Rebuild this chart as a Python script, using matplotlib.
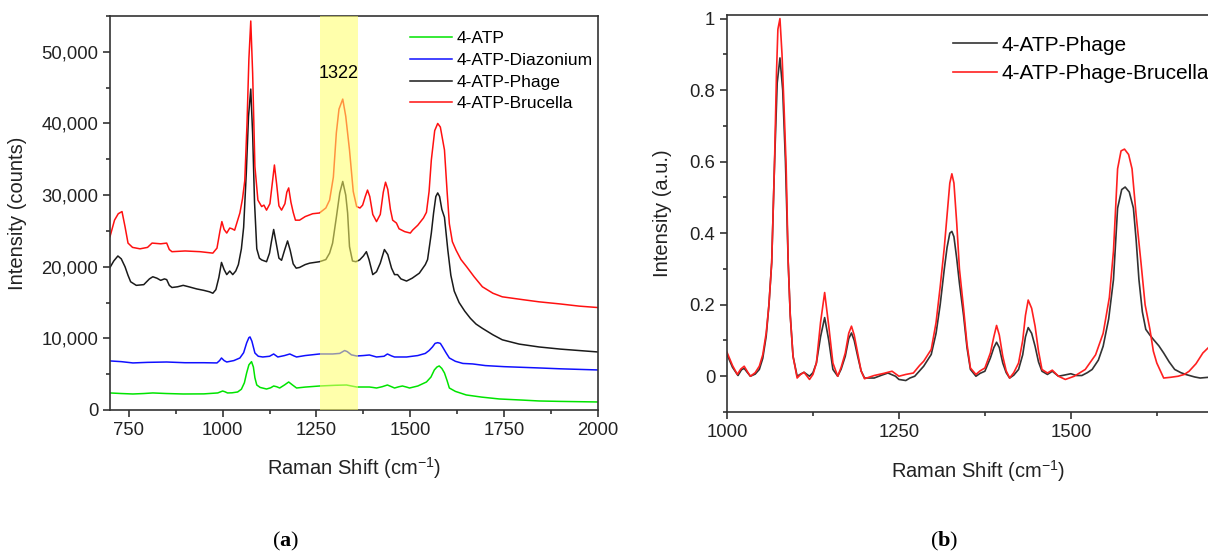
import numpy as np
import matplotlib.pyplot as plt
from matplotlib.ticker import MultipleLocator, FuncFormatter

plt.rcParams['font.family'] = ['Liberation Sans', 'DejaVu Sans']
plt.rcParams['mathtext.fontset'] = 'custom'
plt.rcParams['mathtext.rm'] = 'Liberation Sans'
plt.rcParams['mathtext.bf'] = 'Liberation Serif:bold'

# ---- panel (a) spectra ----
red_x = [700, 712, 722, 732, 740, 748, 760, 780, 800, 812, 835, 851, 858, 865, 900, 940, 974,
         985, 993, 998, 1004, 1011, 1019, 1025, 1032, 1046, 1053, 1059, 1065, 1070, 1075, 1080,
         1086, 1094, 1104, 1110, 1117, 1126, 1132, 1138, 1144, 1150, 1157, 1166, 1171, 1176,
         1182, 1188, 1194, 1205, 1220, 1240, 1258, 1275, 1285, 1295, 1303, 1310, 1320, 1328,
         1338, 1348, 1357, 1366, 1373, 1380, 1386, 1392, 1400, 1410, 1420, 1428, 1434, 1440,
         1447, 1453, 1463, 1470, 1485, 1500, 1506, 1520, 1535, 1543, 1550, 1556, 1565, 1573,
         1580, 1591, 1598, 1604, 1612, 1622, 1635, 1650, 1670, 1692, 1720, 1745, 1800, 1843,
         1900, 1950, 2000]
red_y = [24200, 26500, 27400, 27700, 25600, 23300, 22700, 22500, 22700, 23300, 23200, 23300,
         22400, 22100, 22200, 22100, 21900, 22600, 25000, 26300, 25200, 24700, 25400, 25300,
         25100, 27500, 29500, 32000, 40000, 49000, 54300, 47000, 34000, 29300, 28400, 28600,
         27900, 28800, 31500, 34200, 31500, 28500, 27900, 28800, 30400, 31000, 29000, 27600,
         26500, 26500, 27000, 27400, 27500, 28200, 29300, 32500, 38700, 42000, 43400, 41000,
         36300, 30500, 28400, 28200, 28600, 29800, 30700, 29800, 27300, 26300, 27300, 30400,
         31800, 30800, 28000, 26500, 26100, 25300, 24900, 24700, 25100, 25800, 26800, 27600,
         30500, 34900, 39000, 40000, 39500, 36300, 30500, 26000, 23500, 22300, 21000, 20000,
         18600, 17200, 16300, 15800, 15400, 15100, 14800, 14500, 14300]

black_x = [700, 710, 721, 730, 740, 748, 755, 770, 790, 805, 814, 825, 835, 845, 851, 858, 865,
           880, 895, 910, 931, 950, 965, 974, 982, 990, 997, 1004, 1011, 1019, 1027, 1035,
           1042, 1050, 1056, 1063, 1069, 1075, 1080, 1085, 1091, 1098, 1104, 1117, 1125, 1130,
           1136, 1142, 1150, 1157, 1165, 1173, 1180, 1188, 1196, 1205, 1220, 1232, 1258, 1275,
           1285, 1293, 1303, 1312, 1320, 1328, 1333, 1338, 1346, 1355, 1365, 1375, 1383, 1390,
           1400, 1410, 1420, 1431, 1440, 1450, 1458, 1466, 1475, 1490, 1505, 1524, 1540, 1546,
           1556, 1562, 1568, 1573, 1578, 1584, 1591, 1600, 1608, 1617, 1630, 1645, 1660, 1675,
           1692, 1720, 1745, 1790, 1843, 1900, 1950, 2000]
black_y = [19900, 20800, 21500, 21100, 20000, 18800, 17900, 17400, 17500, 18300, 18600, 18400,
           18100, 18300, 18200, 17400, 17100, 17200, 17400, 17200, 16900, 16700, 16500, 16300,
           16800, 18500, 20600, 19600, 18900, 19400, 18900, 19400, 20300, 22500, 25500, 33000,
           41000, 44800, 38500, 29000, 22500, 21200, 20950, 20700, 21900, 23500, 25200, 23500,
           21200, 20900, 22300, 23600, 22300, 20400, 19800, 19900, 20300, 20500, 20700, 21000,
           21900, 23300, 26900, 30300, 31900, 30000, 27500, 22800, 20800, 20700, 20950, 21500,
           22100, 21000, 18900, 19300, 20500, 22400, 21700, 19800, 18900, 18900, 18300, 18000,
           18400, 19100, 20300, 21000, 24700, 27500, 29800, 30300, 29800, 28000, 26900, 22300,
           18800, 16600, 15000, 13800, 12800, 12000, 11400, 10500, 9800, 9200, 8800, 8500, 8300,
           8100]

blue_x = [700, 730, 761, 800, 851, 900, 950, 985, 992, 997, 1004, 1011, 1030, 1046, 1056, 1064,
          1070, 1073, 1078, 1086, 1095, 1107, 1125, 1136, 1147, 1165, 1179, 1190, 1197, 1220,
          1258, 1293, 1312, 1325, 1332, 1343, 1357, 1375, 1391, 1410, 1430, 1439, 1450, 1458,
          1490, 1520, 1540, 1550, 1559, 1566, 1573, 1580, 1586, 1595, 1604, 1620, 1640, 1666,
          1700, 1750, 1843, 1900, 2000]
blue_y = [6850, 6750, 6570, 6650, 6700, 6600, 6600, 6570, 6900, 7260, 6900, 6700, 6900, 7260,
          8000, 9360, 10100, 10200, 9600, 7960, 7500, 7400, 7500, 7820, 7400, 7600, 7820, 7550,
          7400, 7600, 7820, 7820, 7900, 8300, 8150, 7700, 7540, 7600, 7680, 7400, 7500, 7820,
          7550, 7400, 7400, 7600, 7900, 8300, 8800, 9300, 9400, 9300, 8800, 8000, 7260, 6800,
          6500, 6430, 6200, 6050, 5870, 5750, 5590]

green_x = [700, 730, 761, 790, 814, 850, 895, 950, 987, 1000, 1006, 1013, 1025, 1040, 1050,
           1058, 1064, 1070, 1077, 1082, 1086, 1091, 1100, 1117, 1128, 1136, 1144, 1152, 1165,
           1176, 1186, 1197, 1220, 1258, 1300, 1330, 1357, 1391, 1400, 1410, 1425, 1439, 1450,
           1458, 1470, 1479, 1490, 1498, 1520, 1543, 1555, 1564, 1571, 1577, 1584, 1591, 1598,
           1604, 1620, 1649, 1690, 1737, 1800, 1843, 1900, 2000]
green_y = [2380, 2300, 2235, 2300, 2380, 2300, 2235, 2250, 2380, 2650, 2550, 2380, 2400, 2515,
           2900, 3800, 5170, 6300, 6750, 6000, 4500, 3490, 3150, 2930, 3100, 3350, 3250, 3070,
           3500, 3910, 3500, 3070, 3200, 3350, 3450, 3490, 3210, 3210, 3150, 3070, 3250, 3490,
           3250, 3070, 3250, 3350, 3200, 3070, 3350, 3910, 4600, 5590, 6000, 6150, 5800, 5170,
           4100, 3070, 2600, 2100, 1800, 1540, 1380, 1260, 1200, 1120]

# ---- panel (b) normalised spectra ----
phage_x = [1000, 1008, 1016, 1021, 1025, 1029, 1034, 1041, 1047, 1052, 1057, 1061, 1065, 1069,
           1073, 1077, 1081, 1085, 1089, 1092, 1096, 1102, 1107, 1112, 1120, 1125, 1130, 1136,
           1142, 1148, 1154, 1161, 1166, 1172, 1177, 1181, 1185, 1190, 1195, 1200, 1214, 1225,
           1234, 1245, 1250, 1260, 1266, 1273, 1280, 1286, 1297, 1304, 1310, 1316, 1320, 1324,
           1327, 1330, 1334, 1338, 1344, 1349, 1354, 1362, 1368, 1375, 1383, 1388, 1392, 1396,
           1401, 1406, 1411, 1417, 1424, 1430, 1434, 1438, 1443, 1448, 1453, 1458, 1466, 1473,
           1482, 1490, 1500, 1508, 1516, 1524, 1531, 1540, 1547, 1555, 1562, 1568, 1574, 1579,
           1585, 1591, 1595, 1599, 1604, 1609, 1615, 1620, 1628, 1635, 1643, 1651, 1660, 1667,
           1680, 1688, 1700, 1715, 1730]
phage_y = [0.061, 0.025, 0.002, 0.018, 0.022, 0.012, 0.0, 0.006, 0.019, 0.05, 0.112, 0.2,
           0.318, 0.587, 0.82, 0.89, 0.8, 0.6, 0.318, 0.17, 0.056, 0.0, 0.006, 0.011, 0.0, 0.01,
           0.037, 0.11, 0.164, 0.1, 0.019, 0.0, 0.02, 0.056, 0.105, 0.121, 0.1, 0.056, 0.015,
           -0.005, -0.005, 0.003, 0.009, 0.0, -0.009, -0.012, -0.005, 0.0, 0.015, 0.028, 0.061,
           0.12, 0.2, 0.3, 0.36, 0.4, 0.405, 0.39, 0.33, 0.26, 0.17, 0.08, 0.019, 0.0, 0.008,
           0.014, 0.051, 0.08, 0.095, 0.08, 0.037, 0.01, -0.005, 0.003, 0.019, 0.06, 0.11, 0.136,
           0.12, 0.084, 0.04, 0.014, 0.005, 0.014, 0.0, 0.003, 0.007, 0.002, 0.002, 0.01, 0.019,
           0.045, 0.084, 0.16, 0.27, 0.47, 0.522, 0.529, 0.515, 0.47, 0.38, 0.271, 0.18, 0.131,
           0.115, 0.103, 0.085, 0.065, 0.04, 0.019, 0.01, 0.005, -0.002, -0.005, -0.003, 0.0,
           -0.002]

bru_x = [1000, 1008, 1015, 1020, 1025, 1030, 1034, 1041, 1047, 1052, 1057, 1061, 1065, 1069,
         1072, 1074, 1077, 1080, 1083, 1086, 1089, 1092, 1096, 1102, 1107, 1112, 1120, 1125,
         1130, 1136, 1142, 1148, 1154, 1161, 1166, 1172, 1177, 1181, 1185, 1190, 1195, 1200,
         1214, 1228, 1240, 1250, 1260, 1271, 1280, 1286, 1297, 1304, 1310, 1316, 1320, 1324,
         1327, 1330, 1334, 1338, 1344, 1349, 1354, 1362, 1368, 1375, 1383, 1388, 1392, 1396,
         1401, 1406, 1411, 1417, 1424, 1430, 1434, 1438, 1443, 1448, 1453, 1458, 1466, 1473,
         1482, 1492, 1505, 1521, 1536, 1547, 1556, 1562, 1568, 1573, 1578, 1584, 1589, 1595,
         1602, 1608, 1615, 1620, 1625, 1635, 1645, 1656, 1665, 1672, 1682, 1692, 1700, 1715,
         1730]
bru_y = [0.067, 0.03, 0.005, 0.02, 0.028, 0.012, 0.0, 0.01, 0.028, 0.06, 0.121, 0.2, 0.318,
         0.587, 0.85, 0.97, 1.0, 0.9, 0.75, 0.587, 0.318, 0.17, 0.056, -0.005, 0.005, 0.011,
         -0.009, 0.005, 0.037, 0.15, 0.234, 0.14, 0.037, 0.0, 0.025, 0.065, 0.12, 0.14, 0.115,
         0.065, 0.015, -0.007, 0.002, 0.008, 0.014, 0.0, 0.005, 0.009, 0.03, 0.042, 0.075, 0.15,
         0.25, 0.36, 0.45, 0.54, 0.566, 0.54, 0.43, 0.3, 0.19, 0.09, 0.023, 0.005, 0.015, 0.023,
         0.065, 0.11, 0.142, 0.115, 0.056, 0.015, -0.005, 0.01, 0.037, 0.1, 0.17, 0.213, 0.19,
         0.14, 0.07, 0.019, 0.009, 0.017, 0.0, -0.009, 0.0, 0.019, 0.06, 0.12, 0.22, 0.35, 0.58,
         0.63, 0.635, 0.62, 0.58, 0.45, 0.318, 0.2, 0.131, 0.07, 0.037, -0.005, -0.003, 0.0,
         0.005, 0.014, 0.035, 0.065, 0.08, 0.11, 0.14]

W, H = 1208, 554
fig = plt.figure(figsize=(W / 100, H / 100), dpi=100)

# (a)
ax = fig.add_axes([110 / W, 144 / H, 488 / W, 394 / H])
ax.plot(green_x, green_y, color='#00e400', lw=1.1, label='4-ATP')
ax.plot(blue_x, blue_y, color='#1010ff', lw=1.1, label='4-ATP-Diazonium')
ax.plot(black_x, black_y, color='#1a1a1a', lw=1.1, label='4-ATP-Phage')
ax.plot(red_x, red_y, color='#ff1010', lw=1.1, label='4-ATP-Brucella')
ax.axvspan(1260, 1360, color='#ffff66', alpha=0.55, lw=0, zorder=3)
ax.text(1310, 47000, '1322', ha='center', va='center', fontsize=13)
ax.set_xlim(700, 2000)
ax.set_ylim(0, 55000)
ax.xaxis.set_major_locator(MultipleLocator(250))
ax.xaxis.set_minor_locator(MultipleLocator(125))
ax.yaxis.set_major_locator(MultipleLocator(10000))
ax.yaxis.set_minor_locator(MultipleLocator(5000))
ax.yaxis.set_major_formatter(FuncFormatter(lambda v, p: f'{v:,.0f}'))
ax.tick_params(which='both', direction='out', width=1.1, labelsize=13.3, colors='#222222')
ax.tick_params(which='major', length=5)
ax.tick_params(which='minor', length=3)
for s in ax.spines.values():
    s.set_linewidth(1.2)
    s.set_color('#333333')
ax.set_xlabel(r'Raman Shift (cm$^{-1}$)', fontsize=14.5, color='#222222')
ax.set_ylabel('Intensity (counts)', fontsize=14.5, color='#222222')
ax.xaxis.set_label_coords(0.5, -0.115)
ax.yaxis.set_label_coords(-0.17, 0.5)
ax.legend(loc='upper left', bbox_to_anchor=(0.615, 0.962), frameon=False, fontsize=12.5,
          handlelength=2.4, handletextpad=0.25, labelspacing=0.38, borderpad=0,
          borderaxespad=0)

# (b)
ax2 = fig.add_axes([727 / W, 142 / H, 502 / W, 397 / H])
ax2.plot(phage_x, phage_y, color='#333333', lw=1.2, label='4-ATP-Phage')
ax2.plot(bru_x, bru_y, color='#ff2020', lw=1.2, label='4-ATP-Phage-Brucella')
ax2.set_xlim(1000, 1730)
ax2.set_ylim(-0.1, 1.01)
ax2.xaxis.set_major_locator(MultipleLocator(250))
ax2.xaxis.set_minor_locator(MultipleLocator(125))
ax2.yaxis.set_major_locator(MultipleLocator(0.2))
ax2.yaxis.set_minor_locator(MultipleLocator(0.1))
ax2.yaxis.set_major_formatter(FuncFormatter(lambda v, p: f'{v:g}' if abs(v) > 1e-9 else '0'))
ax2.tick_params(which='both', direction='out', width=1.1, labelsize=13.3, colors='#222222')
ax2.tick_params(which='major', length=5)
ax2.tick_params(which='minor', length=3)
for s in ax2.spines.values():
    s.set_linewidth(1.2)
    s.set_color('#333333')
ax2.set_xlabel(r'Raman Shift (cm$^{-1}$)', fontsize=14.5, color='#222222')
ax2.set_ylabel('Intensity (a.u.)', fontsize=14.5, color='#222222')
ax2.xaxis.set_label_coords(0.5, -0.115)
ax2.yaxis.set_label_coords(-0.11, 0.5)
ax2.legend(loc='upper left', bbox_to_anchor=(0.45, 0.948), frameon=False, fontsize=15,
           handlelength=2.1, handletextpad=0.25, labelspacing=0.45, borderpad=0,
           borderaxespad=0)

fig.text(286 / W, 1 - 541 / H, r'($\mathbf{a}$)', family='Liberation Serif', fontsize=16,
         ha='center', va='center')
fig.text(944 / W, 1 - 541 / H, r'($\mathbf{b}$)', family='Liberation Serif', fontsize=16,
         ha='center', va='center')

fig.savefig('out.png', dpi=100)
